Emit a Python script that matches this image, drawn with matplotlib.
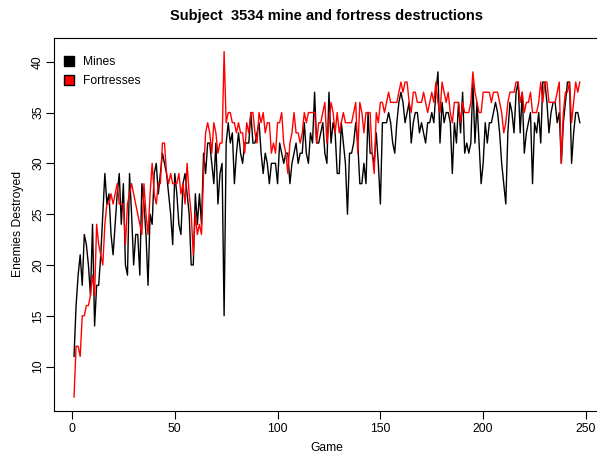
import matplotlib
matplotlib.use("Agg")
import matplotlib.pyplot as plt
import numpy as np

plt.rcParams['font.family'] = ['Liberation Sans', 'DejaVu Sans']

# games 1..247
mines = [
    11, 16, 19, 21, 18, 23, 22, 20, 17, 24, 14, 18, 18, 21, 25, 29, 26, 27, 23, 21, 24, 27, 29, 24,
    28, 20, 19, 29, 25, 20, 23, 23, 19, 28, 26, 23, 18, 25, 24, 29, 30, 27, 29, 31, 30, 29, 27, 25, 22, 29, 27,
    24, 23, 28, 29, 27, 25, 20, 20, 27, 24, 27, 24, 31, 29, 32, 32, 30, 28, 32, 26, 29, 30, 15, 32, 34, 32, 33,
    28, 31, 33, 31, 30, 32, 32, 32, 35, 32, 32, 33, 34, 31, 29, 31, 30, 28, 30, 30, 30, 28, 32, 31, 30, 31, 31,
    28, 30, 31, 32, 30, 31, 31, 34, 31, 30, 33, 32, 37, 32, 32, 33, 34, 31, 30, 37, 32, 34, 33, 29, 29, 34, 32,
    30, 25, 31, 31, 32, 34, 32, 28, 28, 30, 28, 35, 31, 31, 30, 33, 30, 26, 34, 34, 34, 35, 34, 32, 31, 34, 36,
    37, 36, 34, 35, 36, 32, 34, 35, 35, 33, 34, 33, 32, 34, 34, 35, 34, 37, 39, 32, 36, 34, 35, 35, 34, 29, 34,
    32, 36, 33, 37, 31, 32, 31, 32, 38, 32, 36, 32, 28, 30, 34, 32, 34, 34, 35, 36, 35, 33, 30, 28, 26, 33, 36, 35,
    33, 37, 38, 33, 37, 31, 33, 34, 35, 28, 34, 33, 35, 32, 38, 38, 36, 33, 35, 36, 36, 34,
    35, 30, 34, 36, 38, 38, 30, 33, 35, 35, 34,
]
fortresses = [
    7, 12, 12, 11, 15, 15, 16, 16, 17, 19, 17, 24, 22, 21, 20, 24, 26, 26, 27, 26, 27, 28, 26, 26,
    26, 22, 26, 27, 28, 27, 26, 25, 24, 23, 28, 25, 23, 27, 30, 27, 26, 28, 28, 32, 32, 29, 28, 29, 28, 28, 28,
    29, 27, 28, 26, 30, 27, 25, 21, 25, 23, 24, 23, 29, 33, 34, 33, 31, 34, 33, 31, 32, 32, 41, 34, 35, 35, 34,
    34, 33, 34, 33, 33, 31, 34, 33, 35, 35, 33, 32, 35, 34, 35, 33, 34, 34, 31, 32, 31, 34, 34, 35, 32, 31, 29,
    32, 33, 35, 33, 33, 32, 33, 35, 34, 35, 35, 35, 35, 32, 34, 34, 35, 36, 32, 34, 36, 35, 33, 35, 33, 34, 35,
    34, 34, 34, 34, 35, 36, 31, 36, 35, 33, 35, 35, 35, 31, 29, 35, 34, 36, 36, 35, 36, 37, 36, 36, 36, 36, 37,
    38, 37, 38, 38, 36, 35, 37, 37, 36, 36, 36, 37, 36, 35, 36, 37, 36, 38, 36, 35, 38, 37, 36, 37, 35, 34, 36,
    36, 36, 34, 36, 35, 35, 35, 36, 39, 37, 36, 35, 35, 37, 37, 37, 37, 36, 37, 37, 37, 36, 35, 33, 34, 36, 37, 37,
    37, 38, 38, 36, 37, 35, 36, 36, 37, 35, 35, 35, 36, 38, 36, 38, 38, 36, 36, 36, 36, 37,
    38, 30, 35, 37, 37, 38, 34, 36, 38, 37, 38,
]
series_labels = ["Mines", "Fortresses"]
x_ticks = [0, 50, 100, 150, 200, 250]
y_ticks = [10, 15, 20, 25, 30, 35, 40]

games = np.arange(1, len(mines) + 1)

fig = plt.figure(figsize=(5.97, 4.55), dpi=100)
ax = fig.add_axes([0.0901, 0.097, 0.915, 0.82])

ax.plot(games, mines, color='black', lw=1.0)
ax.plot(games[:len(fortresses)], fortresses, color='red', lw=1.0)

# R style limits: 4% padding
allv = mines + fortresses
lo, hi = min(allv), max(allv)
pad = 0.04 * (hi - lo)
ax.set_ylim(lo - pad, hi + pad)
xpad = 0.04 * (len(mines) - 1)
ax.set_xlim(1 - xpad, len(mines) + xpad)

ax.set_xticks(x_ticks)
ax.set_yticks(y_ticks)
ax.set_yticklabels([str(v) for v in y_ticks], rotation=90, va='center')
ax.tick_params(direction='out', length=6, width=0.8, labelsize=8.7, pad=1)
ax.tick_params(axis='x', pad=3)
for s in ax.spines.values():
    s.set_linewidth(0.8)

ax.set_xlabel("Game", fontsize=8.7, labelpad=5)
ax.set_ylabel("Enemies Destroyed", fontsize=8.7, labelpad=6)
ax.set_title("Subject  3534 mine and fortress destructions", fontsize=10.5,
             fontweight='bold', pad=13)

handles = [
    plt.Line2D([0], [0], marker='s', color='none', markerfacecolor='black',
               markeredgecolor='black', markersize=7.5, label=series_labels[0]),
    plt.Line2D([0], [0], marker='s', color='none', markerfacecolor='red',
               markeredgecolor='black', markersize=7.5, label=series_labels[1]),
]
ax.legend(handles=handles, loc='upper left', bbox_to_anchor=(0.0, 0.98),
          frameon=False, fontsize=8.7, handlelength=0.8, handletextpad=0.7,
          labelspacing=0.55)

fig.savefig("out.png", dpi=100)
